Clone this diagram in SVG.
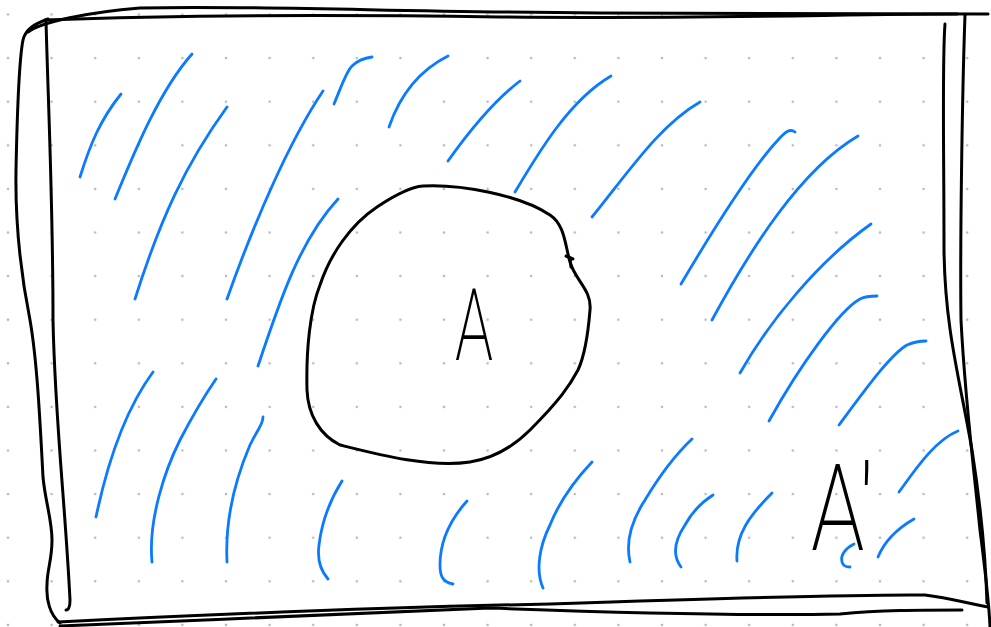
<svg xmlns="http://www.w3.org/2000/svg" width="991" height="627" viewBox="0 0 991 627">
<defs>
<pattern id="dots" patternUnits="userSpaceOnUse" x="-13.8" y="-7.3" width="43.6" height="43.6">
<circle cx="21.8" cy="21.8" r="1.3" fill="#b8b8b8"/>
</pattern>
<style>
.k{fill:none;stroke:#000;stroke-width:3;stroke-linecap:round;stroke-linejoin:round}
.b{fill:none;stroke:#0a7bff;stroke-width:2.8;stroke-linecap:round;stroke-linejoin:round}
.t{font-family:Roboto,"Liberation Sans",sans-serif;font-weight:200;fill:#000}
</style>
</defs>
<rect width="991" height="627" fill="#fff"/>
<rect width="991" height="627" fill="url(#dots)"/>
<g id="frame">
<path class="k" d="M 28,32 C 40,22 90,12 140,8 C 250,5 400,12 600,13 C 750,14 900,13 988,14"/>
<path class="k" d="M 45,20 C 150,16 300,14 500,17 C 700,19 850,14 957,14"/>
<path class="k" d="M 945,24 C 942,60 944,150 944,250 C 945,330 960,380 972,450 C 983,520 986,570 987,603"/>
<path class="k" d="M 965,15 C 962,100 960,250 961,320 C 965,400 975,480 980,530 C 985,570 989,600 990,627"/>
<path class="k" d="M 58,622 C 200,615 400,607 550,604 C 700,599 850,594 925,595 C 950,598 970,604 988,607"/>
<path class="k" d="M 60,626 C 200,620 400,612 490,608 C 600,612 750,616 840,614 C 880,610 920,610 962,610"/>
<path class="k" d="M 46,20 C 48,100 53,200 53,320 C 55,420 65,500 70,600 C 70,607 69,610 66,610"/>
<path class="k" d="M 48,19 C 35,24 26,28 23,40 C 19,60 17,120 16,170 C 15,230 22,280 30,320 C 37,360 40,420 43,477 C 45,500 52,520 52,540 C 52,560 47,570 47,585 C 46,600 50,615 60,623"/>
</g>
<g id="set-A">
<path class="k" d="M 423,186 C 460,184 520,195 550,215 C 565,225 565,245 570,262 C 575,280 592,290 590,310 C 588,335 585,355 578,370 C 570,385 560,400 530,430 C 515,445 495,458 470,462 C 430,468 380,455 340,445 C 320,435 308,415 307,390 C 306,350 310,310 320,285 C 330,255 350,225 377,207 C 395,195 410,187 423,186 Z"/>
<path class="k" d="M 566,256 L 573,259 M 570,258 L 571,267"/>
<text class="t" x="455" y="360" font-size="100" textLength="38" lengthAdjust="spacingAndGlyphs">A</text>
</g>
<g id="complement">
<text class="t" x="811" y="550" font-size="120" textLength="63" lengthAdjust="spacingAndGlyphs">A'</text>
</g>
<g id="hatching">
<path class="b" d="M 80,177 C 90,145 100,120 121,94"/>
<path class="b" d="M 115,199 C 135,150 160,90 192,54"/>
<path class="b" d="M 135,299 C 160,220 185,165 227,107"/>
<path class="b" d="M 227,299 C 255,220 290,140 323,91"/>
<path class="b" d="M 334,104 C 342,85 346,72 352,66 C 358,60 365,58 372,57"/>
<path class="b" d="M 389,127 C 400,95 420,70 448,56"/>
<path class="b" d="M 448,161 C 470,130 495,100 520,81"/>
<path class="b" d="M 258,366 C 280,300 300,240 338,199"/>
<path class="b" d="M 515,192 C 540,150 570,100 611,76"/>
<path class="b" d="M 592,217 C 630,170 660,125 700,102"/>
<path class="b" d="M 681,284 C 710,235 750,170 778,140 C 785,132 790,128 795,132"/>
<path class="b" d="M 712,320 C 750,250 800,170 858,136"/>
<path class="b" d="M 740,373 C 770,320 820,260 871,224"/>
<path class="b" d="M 769,421 C 800,365 840,310 860,299 C 866,296 872,296 877,296"/>
<path class="b" d="M 839,425 C 865,390 890,355 907,345 C 914,342 920,341 926,341"/>
<path class="b" d="M 899,492 C 915,470 935,440 958,431"/>
<path class="b" d="M 878,557 C 885,540 900,527 914,519"/>
<path class="b" d="M 854,544 C 846,548 840,555 842,562 C 843,566 846,567 850,567"/>
<path class="b" d="M 737,561 C 735,535 750,515 772,493"/>
<path class="b" d="M 681,567 C 672,555 675,540 685,525 C 692,512 702,502 713,495"/>
<path class="b" d="M 630,562 C 625,540 632,520 645,500 C 660,475 675,455 692,439"/>
<path class="b" d="M 543,588 C 535,570 540,545 550,525 C 560,500 575,480 592,462"/>
<path class="b" d="M 96,517 C 108,460 125,410 153,372"/>
<path class="b" d="M 152,562 C 148,520 165,470 180,440 C 193,415 205,395 216,379"/>
<path class="b" d="M 227,562 C 225,520 235,480 250,445 C 257,430 263,425 263,417"/>
<path class="b" d="M 328,579 C 320,570 317,560 319,545 C 322,520 330,500 342,481"/>
<path class="b" d="M 453,584 C 442,582 440,575 440,565 C 440,540 450,520 467,501"/>
</g>
</svg>
